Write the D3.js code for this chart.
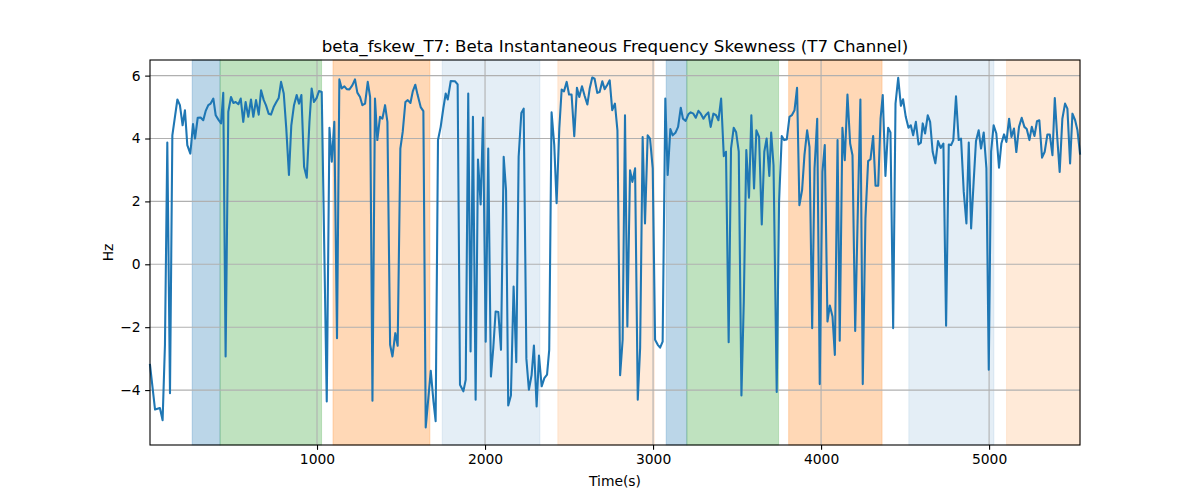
<!DOCTYPE html>
<html><head><meta charset="utf-8">
<script src="https://cdn.jsdelivr.net/npm/d3@7"></script>
<style>body{margin:0;background:#fff}svg{display:block}text{font-family:"DejaVu Sans",sans-serif}</style>
</head><body><svg id="c" width="1200" height="500"></svg>
<script>
const times = [6,36,65,81,95,109,125,139,169,184,200,214,228,246,262,274,290,307,323,337,353,367,383,397,413,429,442,456,472,488,502,516,532,546,561,575,591,607,621,637,653,667,683,696,712,726,742,758,772,786,802,817,833,847,863,879,893,907,923,939,955,968,982,998,1012,1028,1058,1074,1088,1103,1119,1133,1147,1163,1177,1193,1210,1226,1240,1256,1270,1286,1302,1316,1330,1345,1359,1375,1389,1405,1419,1435,1449,1466,1480,1496,1510,1526,1540,1556,1570,1585,1599,1617,1633,1647,1677,1693,1706,1720,1736,1752,1766,1778,1796,1821,1837,1851,1871,1885,1900,1914,1928,1944,1958,1974,1988,2004,2019,2035,2049,2063,2079,2095,2111,2125,2138,2154,2170,2186,2200,2216,2230,2246,2261,2277,2291,2307,2321,2337,2353,2369,2382,2396,2412,2426,2442,2456,2470,2486,2500,2515,2531,2547,2561,2577,2593,2609,2623,2638,2652,2668,2682,2698,2712,2728,2742,2757,2773,2788,2804,2819,2833,2847,2863,2877,2893,2909,2923,2938,2952,2968,2982,2998,3012,3028,3042,3057,3073,3087,3103,3117,3133,3149,3165,3178,3194,3210,3224,3240,3254,3270,3284,3300,3313,3329,3343,3359,3375,3389,3405,3421,3434,3450,3464,3480,3494,3510,3526,3540,3555,3571,3585,3601,3615,3631,3647,3662,3676,3692,3703,3717,3736,3750,3766,3780,3796,3812,3826,3842,3857,3871,3887,3901,3917,3931,3947,3961,3977,3992,4008,4022,4038,4052,4068,4082,4098,4111,4127,4141,4157,4173,4187,4203,4219,4234,4248,4264,4280,4294,4310,4324,4340,4354,4367,4383,4399,4413,4429,4443,4459,4475,4488,4504,4520,4534,4548,4564,4580,4594,4605,4619,4635,4649,4664,4680,4696,4712,4728,4744,4760,4774,4787,4803,4819,4833,4849,4865,4879,4893,4908,4922,4938,4952,4968,4984,4998,5012,5027,5043,5059,5073,5089,5103,5119,5133,5148,5162,5178,5194,5210,5224,5240,5254,5270,5285,5299,5315,5331,5347,5361,5377,5391,5406,5420,5436,5452,5466,5482,5496,5512,5526,5541];
const skew = [-3.2,-4.62,-4.57,-4.96,-2.56,3.87,-4.1,4.1,5.24,5.06,4.42,4.9,3.79,3.52,4.46,4.0,4.66,4.67,4.58,4.87,5.06,5.11,5.27,4.74,4.6,4.48,5.45,-2.93,4.85,5.32,5.13,5.16,5.09,5.27,4.53,5.16,4.69,5.24,4.69,5.22,4.76,5.53,5.22,5.06,4.79,4.76,5.0,5.16,5.29,5.8,5.43,4.32,2.84,4.42,5.06,5.38,5.11,5.38,3.1,2.75,4.53,5.59,5.16,5.29,5.51,5.48,-4.36,4.34,3.26,4.53,-2.35,5.88,5.59,5.66,5.57,5.56,5.69,5.88,5.46,5.32,5.06,5.11,5.8,5.32,-4.34,5.27,3.95,4.69,4.63,5.06,4.53,-2.56,-2.93,-2.19,-2.59,3.68,4.21,5.16,5.22,5.13,5.5,5.71,5.38,5.0,4.87,-5.19,-3.39,-4.36,-4.99,3.95,4.37,4.97,5.43,5.24,5.83,5.82,5.72,-3.83,-4.04,-3.67,5.43,-2.77,4.69,-4.31,3.33,1.9,4.67,-2.46,3.68,-3.57,-2.67,-1.5,-1.52,-2.72,3.42,2.36,-4.49,-4.17,-0.71,-3.11,3.42,4.81,4.95,-3.0,-3.99,-3.53,-2.58,-4.52,-2.9,-3.88,-3.62,-3.51,-2.72,4.83,3.79,1.94,4.32,5.56,5.5,5.8,5.4,5.4,4.07,5.61,5.32,5.66,5.35,5.08,5.59,5.94,5.9,5.45,5.48,5.82,5.57,5.71,5.85,4.9,5.11,4.26,-3.53,-2.4,4.74,-1.98,2.99,2.62,3.05,-4.31,-2.67,4.05,1.3,4.1,4.0,3.05,-2.4,-2.56,-2.65,-2.46,5.27,2.84,4.3,4.1,4.18,4.37,4.98,4.63,4.56,4.77,4.83,4.79,4.66,4.88,4.79,4.63,4.74,4.83,4.37,4.79,4.74,4.58,5.27,3.44,3.58,-2.48,3.68,4.34,4.21,3.58,-4.17,-1.19,3.63,2.12,4.74,2.41,4.26,4.05,1.27,3.58,4.0,2.81,4.19,3.15,-4.06,1.99,4.08,3.95,3.97,4.69,4.74,4.9,5.61,1.88,2.36,3.47,4.26,3.73,-2.03,3.05,4.63,-3.81,2.94,3.79,-1.82,-1.31,-1.66,-2.88,3.95,-2.43,4.34,3.31,5.4,3.84,3.47,-2.12,1.78,5.24,-3.81,1.46,3.28,3.34,4.08,2.5,2.5,4.63,5.38,2.81,4.34,4.19,-2.03,5.11,5.93,5.04,5.25,4.69,4.34,4.42,4.1,4.53,3.81,3.87,4.48,4.16,4.74,4.53,3.58,3.21,3.92,3.7,3.84,-1.95,3.81,3.79,3.95,5.34,3.95,4.0,2.31,1.3,3.87,1.14,2.62,3.92,4.26,3.68,4.19,3.05,-3.35,3.58,4.42,4.16,3.07,3.84,4.13,3.89,4.63,4.05,4.32,3.57,4.37,4.66,4.37,4.3,3.95,4.37,4.08,4.55,4.58,3.39,3.58,4.13,4.13,3.47,5.29,4.0,2.94,4.63,5.11,4.95,3.21,4.79,4.58,4.26,3.52];
const spanStart = [257,423,1095,1745,2433,3078,3201,3807,4522,5104];
const spanEnd   = [423,1027,1672,2327,3007,3201,3747,4363,5029,5541];
const spanKind  = ["blue","green","orange","lightblue","lightorange","blue","green","orange","lightblue","lightorange"];
const xTicks = [1000,2000,3000,4000,5000];
const yTicks = [-4,-2,0,2,4,6];
const titleText = "beta_fskew_T7: Beta Instantaneous Frequency Skewness (T7 Channel)";
const xLabel = "Time(s)";
const yLabel = "Hz";

const spanStyle = {
  blue:{c:"#1f77b4",a:0.3}, green:{c:"#2ca02c",a:0.3}, orange:{c:"#ff7f0e",a:0.3},
  lightblue:{c:"#1f77b4",a:0.12}, lightorange:{c:"#ff7f0e",a:0.16}
};
const L=150,R=1080,T=60,B=445;
const svg=d3.select("#c");
const x=d3.scaleLinear().domain([d3.min(times),d3.max(times)]).range([L,R]);
const ymin=d3.min(skew),ymax=d3.max(skew),pad=(ymax-ymin)*0.05;
const y=d3.scaleLinear().domain([ymin-pad,ymax+pad]).range([B,T]);

// spans
svg.append("g").selectAll("rect").data(spanStart.map((s,i)=>({s,e:spanEnd[i],k:spanKind[i]})))
 .join("rect").attr("x",d=>x(d.s)).attr("width",d=>x(d.e)-x(d.s)).attr("y",T).attr("height",B-T)
 .attr("fill",d=>spanStyle[d.k].c).attr("fill-opacity",d=>spanStyle[d.k].a)
 .attr("stroke",d=>spanStyle[d.k].c).attr("stroke-opacity",d=>spanStyle[d.k].a*0.8).attr("stroke-width",1);

// grid
const g=svg.append("g").attr("stroke","#b0b0b0").attr("stroke-width",1.1);
g.selectAll("line.v").data(xTicks).join("line").attr("x1",d=>x(d)).attr("x2",d=>x(d)).attr("y1",T).attr("y2",B);
g.selectAll("line.h").data(yTicks).join("line").attr("y1",d=>y(d)).attr("y2",d=>y(d)).attr("x1",L).attr("x2",R);

// line
svg.append("path").datum(times.map((t,i)=>[t,skew[i]]))
 .attr("fill","none").attr("stroke","#1f77b4").attr("stroke-width",2.08).attr("stroke-linejoin","round").attr("stroke-linecap","square")
 .attr("d",d3.line().x(d=>x(d[0])).y(d=>y(d[1])));

// frame
svg.append("rect").attr("x",L).attr("y",T).attr("width",R-L).attr("height",B-T).attr("fill","none").attr("stroke","#000").attr("stroke-width",1.1);

// axes
const fmt=d3.format("d");
const xa=svg.append("g").attr("transform",`translate(0,${B})`).call(d3.axisBottom(x).tickValues(xTicks).tickFormat(fmt).tickSize(4.86).tickSizeOuter(0).tickPadding(4));
const ya=svg.append("g").attr("transform",`translate(${L},0)`).call(d3.axisLeft(y).tickValues(yTicks).tickFormat(fmt).tickSize(4.86).tickSizeOuter(0).tickPadding(4.5));
[xa,ya].forEach(a=>{a.select(".domain").remove();a.selectAll("line").attr("stroke","#000").attr("stroke-width",1.1);
 a.selectAll("text").attr("font-family","DejaVu Sans").attr("font-size","13.89px").attr("fill","#000");});

svg.append("text").attr("x",(L+R)/2).attr("y",52).attr("text-anchor","middle").attr("font-size","16.67px").text(titleText);
svg.append("text").attr("x",(L+R)/2).attr("y",486).attr("text-anchor","middle").attr("font-size","13.89px").text(xLabel);
svg.append("text").attr("transform","translate(113,"+((T+B)/2)+") rotate(-90)").attr("text-anchor","middle").attr("font-size","13.89px").text(yLabel);
</script></body></html>
